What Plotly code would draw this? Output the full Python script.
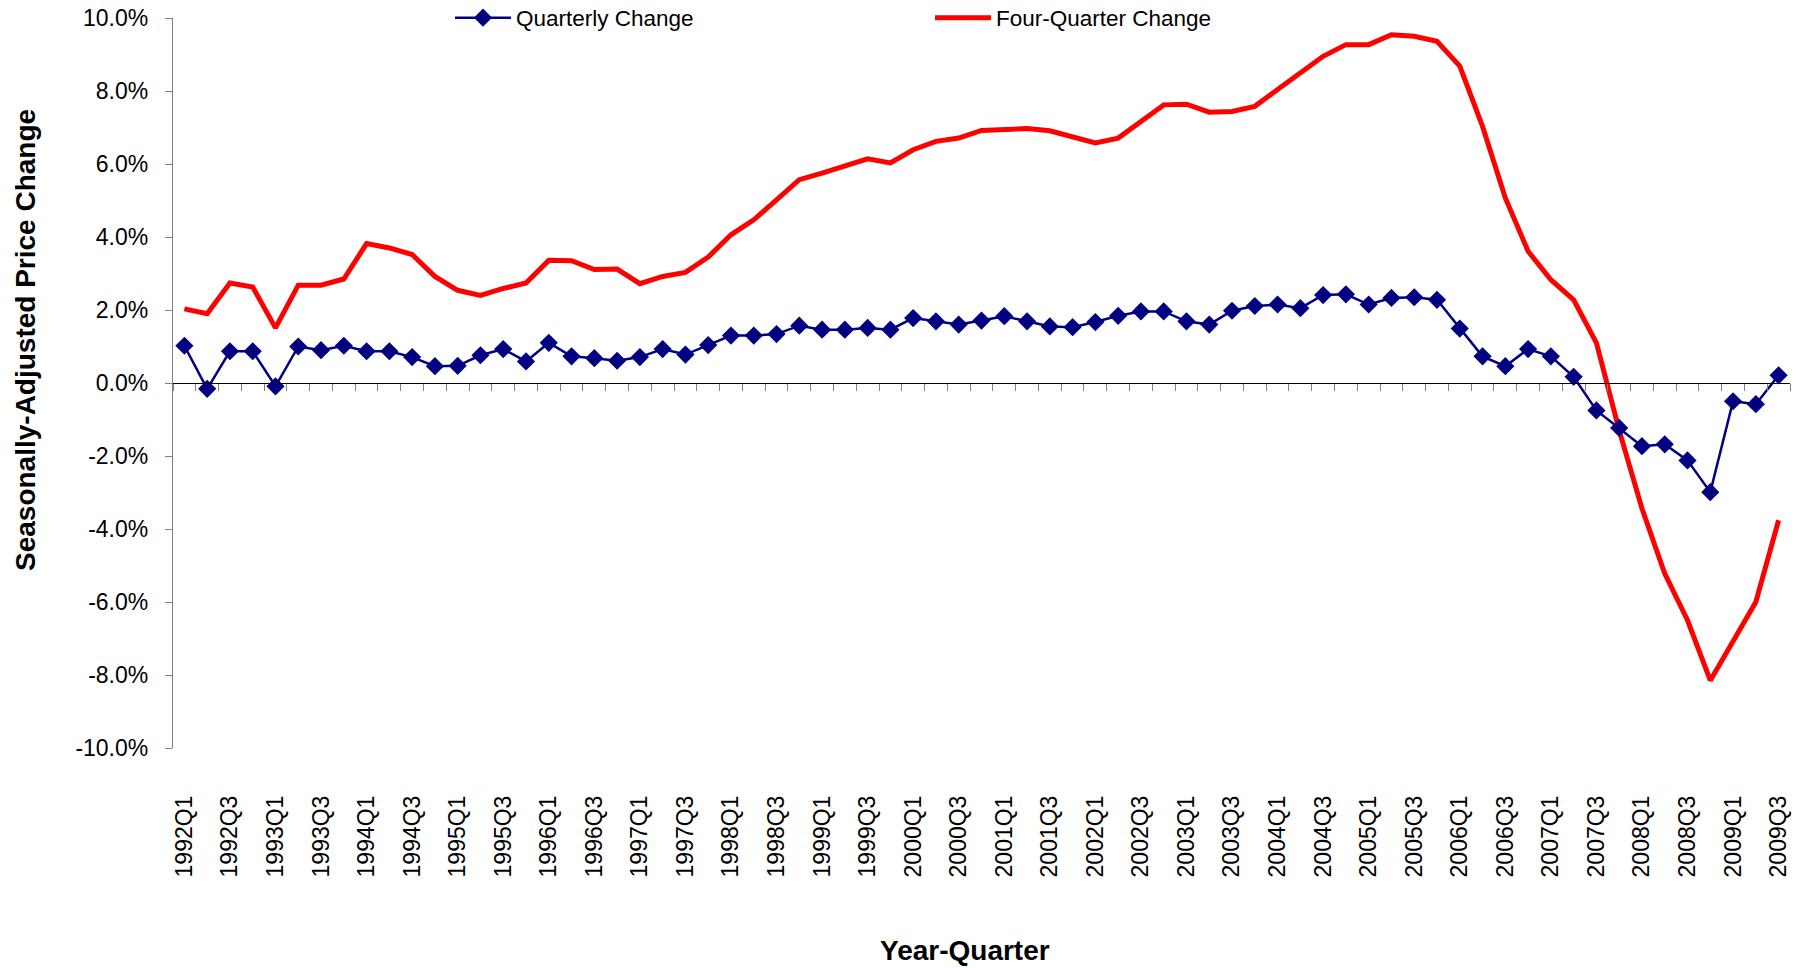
import plotly.graph_objects as go

# ---------------- data ----------------
quarters = [f"{y}Q{q}" for y in range(1992, 2010) for q in range(1, 5)][:71]

quarterly_change = [
    1.02, -0.16, 0.87, 0.87, -0.09, 1.00, 0.90, 1.02, 0.87, 0.87,
    0.71, 0.46, 0.47, 0.76, 0.93, 0.59, 1.10, 0.73, 0.68, 0.61,
    0.71, 0.93, 0.78, 1.04, 1.30, 1.30, 1.34, 1.57, 1.46, 1.46,
    1.51, 1.46, 1.78, 1.69, 1.60, 1.71, 1.83, 1.69, 1.55, 1.53,
    1.67, 1.84, 1.96, 1.96, 1.69, 1.60, 1.98, 2.11, 2.15, 2.05,
    2.41, 2.43, 2.15, 2.33, 2.35, 2.28, 1.49, 0.73, 0.46, 0.93,
    0.73, 0.17, -0.75, -1.23, -1.73, -1.68, -2.12, -2.99, -0.50, -0.58,
    0.21,
]

four_quarter_change = [
    2.03, 1.90, 2.74, 2.63, 1.51, 2.68, 2.68, 2.85, 3.82, 3.70,
    3.52, 2.92, 2.54, 2.40, 2.59, 2.74, 3.36, 3.35, 3.11, 3.12,
    2.72, 2.92, 3.03, 3.45, 4.06, 4.47, 5.02, 5.57, 5.75, 5.94,
    6.14, 6.03, 6.39, 6.62, 6.71, 6.92, 6.96, 6.97, 6.91, 6.74,
    6.58, 6.71, 7.17, 7.62, 7.64, 7.42, 7.44, 7.58, 8.04, 8.51,
    8.95, 9.27, 9.27, 9.54, 9.50, 9.36, 8.68, 7.03, 5.07, 3.61,
    2.83, 2.28, 1.10, -1.30, -3.44, -5.22, -6.50, -8.15, -7.05, -6.00,
    -3.76,
]

y_ticks = [-10, -8, -6, -4, -2, 0, 2, 4, 6, 8, 10]
y_tick_text = [f"{v:.1f}%" for v in y_ticks]

x_idx = list(range(len(quarters)))
label_idx = x_idx[::2]
label_text = [quarters[i] for i in label_idx]
boundaries = [i - 0.5 for i in range(len(quarters) + 1)]

FONT = "Arial, 'Liberation Sans', sans-serif"

fig = go.Figure()
fig.add_trace(go.Scatter(
    x=x_idx, y=four_quarter_change, name="Four-Quarter Change",
    mode="lines", line=dict(color="#FF0000", width=5),
    xaxis="x", yaxis="y", legend="legend2", showlegend=True,
))
fig.add_trace(go.Scatter(
    x=x_idx, y=quarterly_change, name="Quarterly Change",
    mode="lines+markers", line=dict(color="#000080", width=2.5),
    marker=dict(symbol="diamond", size=14, color="#000080"),
    xaxis="x2", yaxis="y", legend="legend", showlegend=True,
))

fig.update_layout(
    width=1807, height=968,
    showlegend=True,
    margin=dict(l=173, r=17, t=18, b=220, autoexpand=False),
    paper_bgcolor="white", plot_bgcolor="white",
    font=dict(family=FONT, color="black", size=22),
    xaxis=dict(
        range=[-0.5, len(quarters) - 0.5],
        tickmode="array", tickvals=label_idx, ticktext=label_text,
        tickangle=-90, ticks="", showline=False, showgrid=False, zeroline=False,
        tickfont=dict(size=23, family=FONT, color="black"),
        ticklabelstandoff=42,
    ),
    xaxis2=dict(
        overlaying="x", matches="x", anchor="free", position=0.5, side="bottom",
        tickmode="array", tickvals=boundaries, ticks="outside", ticklen=7,
        tickcolor="#808080", tickwidth=1.3, showticklabels=False,
        showline=True, linecolor="#000000", linewidth=1.3,
        showgrid=False, zeroline=False,
    ),
    yaxis=dict(
        range=[-10, 10], tickmode="array", tickvals=y_ticks, ticktext=y_tick_text,
        ticks="outside", ticklen=7, tickcolor="#808080", tickwidth=1.3,
        showline=True, linecolor="#808080", linewidth=1.3,
        showgrid=False, zeroline=False,
        tickfont=dict(size=23, family=FONT, color="black"),
        ticklabelstandoff=12,
    ),
    legend=dict(
        orientation="h", x=(450 - 173) / 1617, y=1.0, xanchor="left", yanchor="middle",
        font=dict(size=22.5, family=FONT, color="black"), bgcolor="rgba(0,0,0,0)",
        itemwidth=56, visible=True,
    ),
    legend2=dict(
        orientation="h", x=(930 - 173) / 1617, y=1.0, xanchor="left", yanchor="middle",
        font=dict(size=22.5, family=FONT, color="black"), bgcolor="rgba(0,0,0,0)",
        itemwidth=56, visible=True,
    ),
    annotations=[
        dict(text="<b>Year-Quarter</b>", xref="paper", yref="paper",
             x=(965 - 173) / 1617, y=(748 - 951) / 730, showarrow=False,
             xanchor="center", yanchor="middle",
             font=dict(size=28, family=FONT, color="black")),
        dict(text="<b>Seasonally-Adjusted Price Change</b>", xref="paper", yref="paper",
             x=(25 - 173) / 1617, y=(748 - 340) / 730, showarrow=False, textangle=-90,
             xanchor="center", yanchor="middle",
             font=dict(size=28, family=FONT, color="black")),
    ],
)

fig.write_html(
    "out.html",
    config={"displayModeBar": False},
    post_script="document.body.style.margin='0';document.body.style.overflow='hidden';",
)
